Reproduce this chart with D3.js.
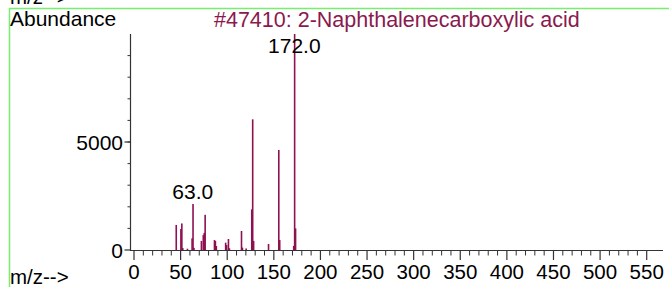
<!DOCTYPE html>
<html><head><meta charset="utf-8">
<script src="https://cdn.jsdelivr.net/npm/d3@7/dist/d3.min.js"></script>
<style>
html,body{margin:0;padding:0;background:#fff;}
svg{display:block;}
text{font-family:"Liberation Sans",Arial,sans-serif;}
</style></head>
<body>
<script>
// m/z values and abundances of peaks
const mzValues = [45,50,51,52,57,62,63,64,72,74,75,76,86,87,88,98,99,101,102,115,116,120,126,127,128,144,155,156,171,172,173];
const abundances = [1160,970,1230,90,60,540,2130,100,420,690,790,1630,460,420,185,340,230,510,80,880,110,70,1880,6050,420,280,4630,460,190,9999,1000];
const labeledPeaks = [63, 172];
const xTicks = [0,50,100,150,200,250,300,350,400,450,500,550];
const yTicks = [0,5000];
const titleText = "#47410: 2-Naphthalenecarboxylic acid";

const W = 669, H = 287;
const svg = d3.select("body").append("svg").attr("width", W).attr("height", H);

const x = d3.scaleLinear().domain([0, 550]).range([134, 646.7]);
const y = d3.scaleLinear().domain([0, 10000]).range([250, 34]);
const peakColor = "#8e1152";
const axisColor = "#333";

// green frame
svg.append("line").attr("x1", 9).attr("x2", W).attr("y1", 8.5).attr("y2", 8.5)
  .attr("stroke", "#78ee6e").attr("stroke-width", 1.5);
svg.append("line").attr("x1", 9.5).attr("x2", 9.5).attr("y1", 8).attr("y2", H)
  .attr("stroke", "#78ee6e").attr("stroke-width", 1.5);

// clipped text above frame (partially visible in the reference)
svg.append("text").attr("x", 10).attr("y", 4).attr("font-size", 20.5).text("m/z-->");

// Titles
svg.append("text").attr("x", 10).attr("y", 26).attr("font-size", 21).attr("fill", "#000").text("Abundance");
svg.append("text").attr("x", 214).attr("y", 27).attr("font-size", 21.5).attr("fill", "#8a1a4e").text(titleText);

// y axis
svg.append("line").attr("x1", 130.5).attr("x2", 130.5).attr("y1", y(10000)).attr("y2", 250)
  .attr("stroke", axisColor).attr("stroke-width", 1.2);
const yMinor = d3.range(1000, 10000, 1000);
svg.selectAll(".ymin").data(yMinor).enter().append("line")
  .attr("x1", 127.5).attr("x2", 130.5).attr("y1", d => y(d)).attr("y2", d => y(d))
  .attr("stroke", axisColor).attr("stroke-width", 1);
svg.selectAll(".ymaj").data(yTicks).enter().append("line")
  .attr("x1", 124.5).attr("x2", 130.5).attr("y1", d => y(d)).attr("y2", d => y(d))
  .attr("stroke", axisColor).attr("stroke-width", 1.2);
svg.selectAll(".ylab").data(yTicks).enter().append("text")
  .attr("x", 123).attr("y", d => y(d) + 7.5).attr("text-anchor", "end").attr("font-size", 21)
  .text(d => d);

// x axis
svg.append("line").attr("x1", 130).attr("x2", 663).attr("y1", 250.5).attr("y2", 250.5)
  .attr("stroke", axisColor).attr("stroke-width", 1.2);
const xMinor = d3.range(0, 560, 10).filter(d => d % 50 !== 0);
svg.selectAll(".xmin").data(xMinor).enter().append("line")
  .attr("x1", d => x(d)).attr("x2", d => x(d)).attr("y1", 250.5).attr("y2", 255.5)
  .attr("stroke", axisColor).attr("stroke-width", 1);
svg.selectAll(".xmaj").data(xTicks).enter().append("line")
  .attr("x1", d => x(d)).attr("x2", d => x(d)).attr("y1", 250.5).attr("y2", 260)
  .attr("stroke", axisColor).attr("stroke-width", 1.2);
svg.selectAll(".xlab").data(xTicks).enter().append("text")
  .attr("x", d => x(d)).attr("y", 279).attr("text-anchor", "middle").attr("font-size", 20.5)
  .text(d => d);
svg.append("text").attr("x", 10).attr("y", 284).attr("font-size", 20.5).text("m/z-->");

// peaks
const peaks = mzValues.map((m, i) => ({mz: m, ab: abundances[i]}));
svg.selectAll(".peak").data(peaks).enter().append("rect")
  .attr("x", d => x(d.mz) - 0.5).attr("width", 1.6)
  .attr("y", d => y(d.ab)).attr("height", d => 250 - y(d.ab))
  .attr("fill", peakColor);

// peak labels
svg.selectAll(".plab").data(peaks.filter(d => labeledPeaks.includes(d.mz))).enter().append("text")
  .attr("x", d => x(d.mz)).attr("y", d => Math.max(y(d.ab) - 5, 53))
  .attr("text-anchor", "middle").attr("font-size", 21)
  .text(d => d.mz.toFixed(1));
</script>
</body></html>
